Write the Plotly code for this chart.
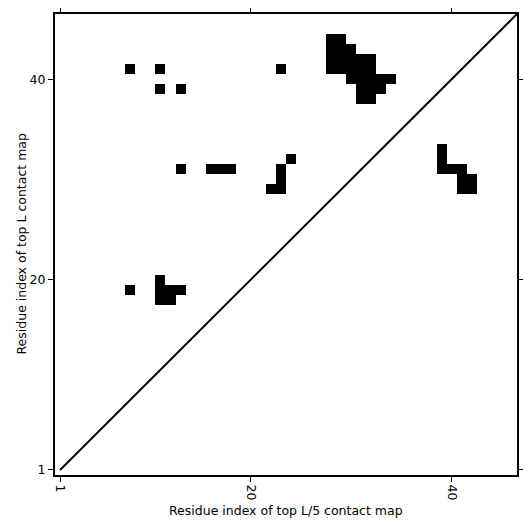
import plotly.graph_objects as go
import numpy as np

L = 46
# contact cells: column (x residue) and row (y residue)
contact_x = [8, 11, 11, 13, 23,
             28, 29,
             28, 29, 30,
             28, 29, 30, 31, 32,
             28, 29, 30, 31, 32,
             30, 31, 32, 33, 34,
             31, 32, 33,
             31, 32,
             13, 16, 17, 18, 24, 23, 23, 22, 23,
             39, 39, 39, 40, 41, 41, 42, 41, 42,
             8, 11, 11, 12, 13, 11, 12]
contact_y = [41, 41, 39, 39, 41,
             44, 44,
             43, 43, 43,
             42, 42, 42, 42, 42,
             41, 41, 41, 41, 41,
             40, 40, 40, 40, 40,
             39, 39, 39,
             38, 38,
             31, 31, 31, 31, 32, 31, 30, 29, 29,
             33, 32, 31, 31, 31, 30, 30, 29, 29,
             19, 20, 19, 19, 19, 18, 18]

residues = list(range(1, L + 1))
tick_vals = [1, 20, 40]
tick_text = ["1", "20", "40"]
x_title = "Residue index of top L/5 contact map"
y_title = "Residue index of top L contact map"

z = np.zeros((L, L))
for cx, cy in zip(contact_x, contact_y):
    z[cy - 1, cx - 1] = 1.0

fig = go.Figure()
fig.add_trace(go.Heatmap(
    x=residues, y=residues, z=z,
    colorscale=[[0, "white"], [1, "black"]],
    zmin=0, zmax=1, showscale=False, hoverinfo="skip",
))
fig.add_trace(go.Scatter(
    x=[1, L + 0.5], y=[1, L + 0.5], mode="lines",
    line=dict(color="black", width=2), showlegend=False, hoverinfo="skip",
))

font = dict(family="DejaVu Sans", size=12.5, color="black")
axis_common = dict(
    tickmode="array", tickvals=tick_vals, ticktext=tick_text,
    ticks="outside", ticklen=5, tickwidth=1, tickcolor="black",
    showline=True, linecolor="black", linewidth=2, mirror="ticks",
    showgrid=False, zeroline=False, range=[0.5, L + 0.5],
    automargin=False,
    tickfont=font,
)
fig.update_xaxes(**axis_common, tickangle=90)
fig.update_yaxes(**axis_common)
fig.add_annotation(text=x_title, xref="paper", yref="paper", x=0.5, y=0,
                   xanchor="center", yanchor="middle", yshift=-35,
                   showarrow=False, font=font)
fig.add_annotation(text=y_title, xref="paper", yref="paper", x=0, y=0.5,
                   xanchor="center", yanchor="middle", xshift=-34,
                   textangle=-90, showarrow=False, font=font)
fig.update_layout(
    width=523, height=523,
    margin=dict(l=47, r=14, t=6, b=56),
    paper_bgcolor="white", plot_bgcolor="white",
    showlegend=False,
)
fig.write_html("out.html")
